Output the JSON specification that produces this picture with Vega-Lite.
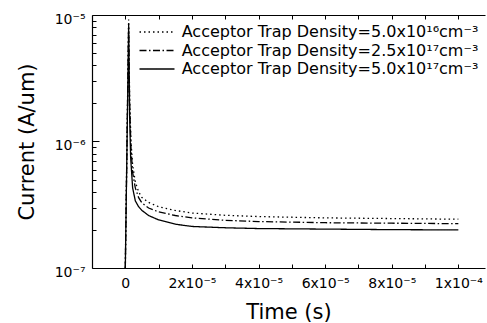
{
  "$schema": "https://vega.github.io/schema/vega-lite/v6.json",
  "width": 393,
  "height": 253,
  "autosize": {"type": "none"},
  "padding": {"left": 92, "top": 15, "right": 2, "bottom": 55},
  "background": "white",
  "config": {
    "view": {"stroke": null},
    "font": "DejaVu Sans",
    "axis": {
      "labelFont": "DejaVu Sans",
      "titleFont": "DejaVu Sans",
      "labelColor": "black",
      "titleColor": "black",
      "domainColor": "black",
      "tickColor": "black",
      "grid": false,
      "titleFontWeight": "normal",
      "domainWidth": 1.2,
      "tickWidth": 1
    }
  },
  "data": {
    "values": [
      {"t": 0, "I": 1e-7, "s": "Acceptor Trap Density=5.0x10¹⁶cm⁻³"},
      {"t": 0.000001, "I": 9.2e-6, "s": "Acceptor Trap Density=5.0x10¹⁶cm⁻³"},
      {"t": 0.0000013, "I": 2.2e-6, "s": "Acceptor Trap Density=5.0x10¹⁶cm⁻³"},
      {"t": 0.0000017, "I": 1.0e-6, "s": "Acceptor Trap Density=5.0x10¹⁶cm⁻³"},
      {"t": 0.0000022, "I": 6.5e-7, "s": "Acceptor Trap Density=5.0x10¹⁶cm⁻³"},
      {"t": 0.000003, "I": 4.8e-7, "s": "Acceptor Trap Density=5.0x10¹⁶cm⁻³"},
      {"t": 0.000004, "I": 4.0e-7, "s": "Acceptor Trap Density=5.0x10¹⁶cm⁻³"},
      {"t": 0.000005, "I": 3.6e-7, "s": "Acceptor Trap Density=5.0x10¹⁶cm⁻³"},
      {"t": 0.000007, "I": 3.3e-7, "s": "Acceptor Trap Density=5.0x10¹⁶cm⁻³"},
      {"t": 0.00001, "I": 3.05e-7, "s": "Acceptor Trap Density=5.0x10¹⁶cm⁻³"},
      {"t": 0.000015, "I": 2.85e-7, "s": "Acceptor Trap Density=5.0x10¹⁶cm⁻³"},
      {"t": 0.00002, "I": 2.72e-7, "s": "Acceptor Trap Density=5.0x10¹⁶cm⁻³"},
      {"t": 0.00003, "I": 2.61e-7, "s": "Acceptor Trap Density=5.0x10¹⁶cm⁻³"},
      {"t": 0.00004, "I": 2.55e-7, "s": "Acceptor Trap Density=5.0x10¹⁶cm⁻³"},
      {"t": 0.00006, "I": 2.49e-7, "s": "Acceptor Trap Density=5.0x10¹⁶cm⁻³"},
      {"t": 0.00008, "I": 2.46e-7, "s": "Acceptor Trap Density=5.0x10¹⁶cm⁻³"},
      {"t": 0.0001, "I": 2.43e-7, "s": "Acceptor Trap Density=5.0x10¹⁶cm⁻³"},
      {"t": 0, "I": 1e-7, "s": "Acceptor Trap Density=2.5x10¹⁷cm⁻³"},
      {"t": 0.000001, "I": 8.6e-6, "s": "Acceptor Trap Density=2.5x10¹⁷cm⁻³"},
      {"t": 0.0000013, "I": 2.0e-6, "s": "Acceptor Trap Density=2.5x10¹⁷cm⁻³"},
      {"t": 0.0000017, "I": 9.0e-7, "s": "Acceptor Trap Density=2.5x10¹⁷cm⁻³"},
      {"t": 0.0000022, "I": 5.7e-7, "s": "Acceptor Trap Density=2.5x10¹⁷cm⁻³"},
      {"t": 0.000003, "I": 4.3e-7, "s": "Acceptor Trap Density=2.5x10¹⁷cm⁻³"},
      {"t": 0.000004, "I": 3.6e-7, "s": "Acceptor Trap Density=2.5x10¹⁷cm⁻³"},
      {"t": 0.000005, "I": 3.27e-7, "s": "Acceptor Trap Density=2.5x10¹⁷cm⁻³"},
      {"t": 0.000007, "I": 2.98e-7, "s": "Acceptor Trap Density=2.5x10¹⁷cm⁻³"},
      {"t": 0.00001, "I": 2.78e-7, "s": "Acceptor Trap Density=2.5x10¹⁷cm⁻³"},
      {"t": 0.000015, "I": 2.6e-7, "s": "Acceptor Trap Density=2.5x10¹⁷cm⁻³"},
      {"t": 0.00002, "I": 2.49e-7, "s": "Acceptor Trap Density=2.5x10¹⁷cm⁻³"},
      {"t": 0.00003, "I": 2.38e-7, "s": "Acceptor Trap Density=2.5x10¹⁷cm⁻³"},
      {"t": 0.00004, "I": 2.33e-7, "s": "Acceptor Trap Density=2.5x10¹⁷cm⁻³"},
      {"t": 0.00006, "I": 2.28e-7, "s": "Acceptor Trap Density=2.5x10¹⁷cm⁻³"},
      {"t": 0.00008, "I": 2.26e-7, "s": "Acceptor Trap Density=2.5x10¹⁷cm⁻³"},
      {"t": 0.0001, "I": 2.24e-7, "s": "Acceptor Trap Density=2.5x10¹⁷cm⁻³"},
      {"t": 0, "I": 1e-7, "s": "Acceptor Trap Density=5.0x10¹⁷cm⁻³"},
      {"t": 0.000001, "I": 8.0e-6, "s": "Acceptor Trap Density=5.0x10¹⁷cm⁻³"},
      {"t": 0.0000013, "I": 1.6e-6, "s": "Acceptor Trap Density=5.0x10¹⁷cm⁻³"},
      {"t": 0.0000016, "I": 7.5e-7, "s": "Acceptor Trap Density=5.0x10¹⁷cm⁻³"},
      {"t": 0.0000022, "I": 4.3e-7, "s": "Acceptor Trap Density=5.0x10¹⁷cm⁻³"},
      {"t": 0.000003, "I": 3.4e-7, "s": "Acceptor Trap Density=5.0x10¹⁷cm⁻³"},
      {"t": 0.000004, "I": 3.05e-7, "s": "Acceptor Trap Density=5.0x10¹⁷cm⁻³"},
      {"t": 0.000005, "I": 2.85e-7, "s": "Acceptor Trap Density=5.0x10¹⁷cm⁻³"},
      {"t": 0.000007, "I": 2.6e-7, "s": "Acceptor Trap Density=5.0x10¹⁷cm⁻³"},
      {"t": 0.00001, "I": 2.4e-7, "s": "Acceptor Trap Density=5.0x10¹⁷cm⁻³"},
      {"t": 0.000015, "I": 2.22e-7, "s": "Acceptor Trap Density=5.0x10¹⁷cm⁻³"},
      {"t": 0.00002, "I": 2.13e-7, "s": "Acceptor Trap Density=5.0x10¹⁷cm⁻³"},
      {"t": 0.00003, "I": 2.08e-7, "s": "Acceptor Trap Density=5.0x10¹⁷cm⁻³"},
      {"t": 0.00004, "I": 2.05e-7, "s": "Acceptor Trap Density=5.0x10¹⁷cm⁻³"},
      {"t": 0.00006, "I": 2.03e-7, "s": "Acceptor Trap Density=5.0x10¹⁷cm⁻³"},
      {"t": 0.00008, "I": 2.01e-7, "s": "Acceptor Trap Density=5.0x10¹⁷cm⁻³"},
      {"t": 0.0001, "I": 2.0e-7, "s": "Acceptor Trap Density=5.0x10¹⁷cm⁻³"}
    ]
  },
  "layer": [
    {
      "mark": {"type": "line", "color": "black", "strokeWidth": 1.3},
      "encoding": {
        "x": {
          "field": "t",
          "type": "quantitative",
          "scale": {"domain": [-0.00001, 0.000108], "nice": false, "zero": false},
          "axis": {
            "orient": "bottom",
            "values": [0, 0.00001, 0.00002, 0.00003, 0.00004, 0.00005, 0.00006, 0.00007, 0.00008, 0.00009, 0.0001],
            "labelExpr": "round(datum.value*1e5)==0 ? '0' : round(datum.value*1e5)==10 ? '1x10⁻⁴' : round(datum.value*1e5)%2==0 ? round(datum.value*1e5)+'x10⁻⁵' : ''",
            "tickSize": -4,
            "labelPadding": 12,
            "labelFontSize": 14,
            "labelFlush": false,
            "labelOverlap": false,
            "title": "Time (s)",
            "titleFontSize": 21,
            "titlePadding": 11
          }
        },
        "y": {
          "field": "I",
          "type": "quantitative",
          "scale": {"type": "log", "domain": [1e-7, 1e-5], "nice": false},
          "axis": {
            "orient": "left",
            "values": [1e-7, 2e-7, 3e-7, 4e-7, 5e-7, 6e-7, 7e-7, 8e-7, 9e-7, 1e-6, 2e-6, 3e-6, 4e-6, 5e-6, 6e-6, 7e-6, 8e-6, 9e-6, 1e-5],
            "labelExpr": "datum.value==1e-5 ? '10⁻⁵' : datum.value==1e-6 ? '10⁻⁶' : datum.value==1e-7 ? '10⁻⁷' : ''",
            "tickSize": {"condition": {"test": "datum.value==1e-5 || datum.value==1e-6 || datum.value==1e-7", "value": -7}, "value": -4},
            "labelPadding": 14,
            "labelFontSize": 14,
            "labelOffset": 4,
            "labelFlush": false,
            "labelOverlap": false,
            "title": "Current (A/um)",
            "titleFontSize": 21,
            "titlePadding": 17
          }
        },
        "strokeDash": {
          "field": "s",
          "type": "nominal",
          "scale": {
            "domain": ["Acceptor Trap Density=5.0x10¹⁶cm⁻³", "Acceptor Trap Density=2.5x10¹⁷cm⁻³", "Acceptor Trap Density=5.0x10¹⁷cm⁻³"],
            "range": [[1.5, 3], [7, 2.5, 1.5, 2.5], [1, 0]]
          },
          "legend": {
            "title": null,
            "orient": "none",
            "legendX": 57,
            "legendY": 9,
            "padding": 0,
            "symbolType": "M-3,0H3",
            "symbolSize": 136,
            "symbolStrokeWidth": 1.3,
            "symbolStrokeColor": "black",
            "symbolFillColor": "transparent",
            "labelFont": "DejaVu Sans",
            "labelFontSize": 16,
            "labelColor": "black",
            "labelLimit": 400,
            "labelOffset": 16.7,
            "rowPadding": 2.5
          }
        }
      }
    },
    {
      "mark": {"type": "line", "opacity": 0},
      "encoding": {
        "x": {
          "field": "t",
          "type": "quantitative",
          "axis": {
            "orient": "top",
            "values": [0, 0.00001, 0.00002, 0.00003, 0.00004, 0.00005, 0.00006, 0.00007, 0.00008, 0.00009, 0.0001],
            "labels": false,
            "tickSize": -4,
            "title": null
          }
        },
        "y": {"field": "I", "type": "quantitative", "axis": null},
        "detail": {"field": "s", "type": "nominal"}
      }
    }
  ],
  "resolve": {"axis": {"x": "independent", "y": "independent"}}
}
